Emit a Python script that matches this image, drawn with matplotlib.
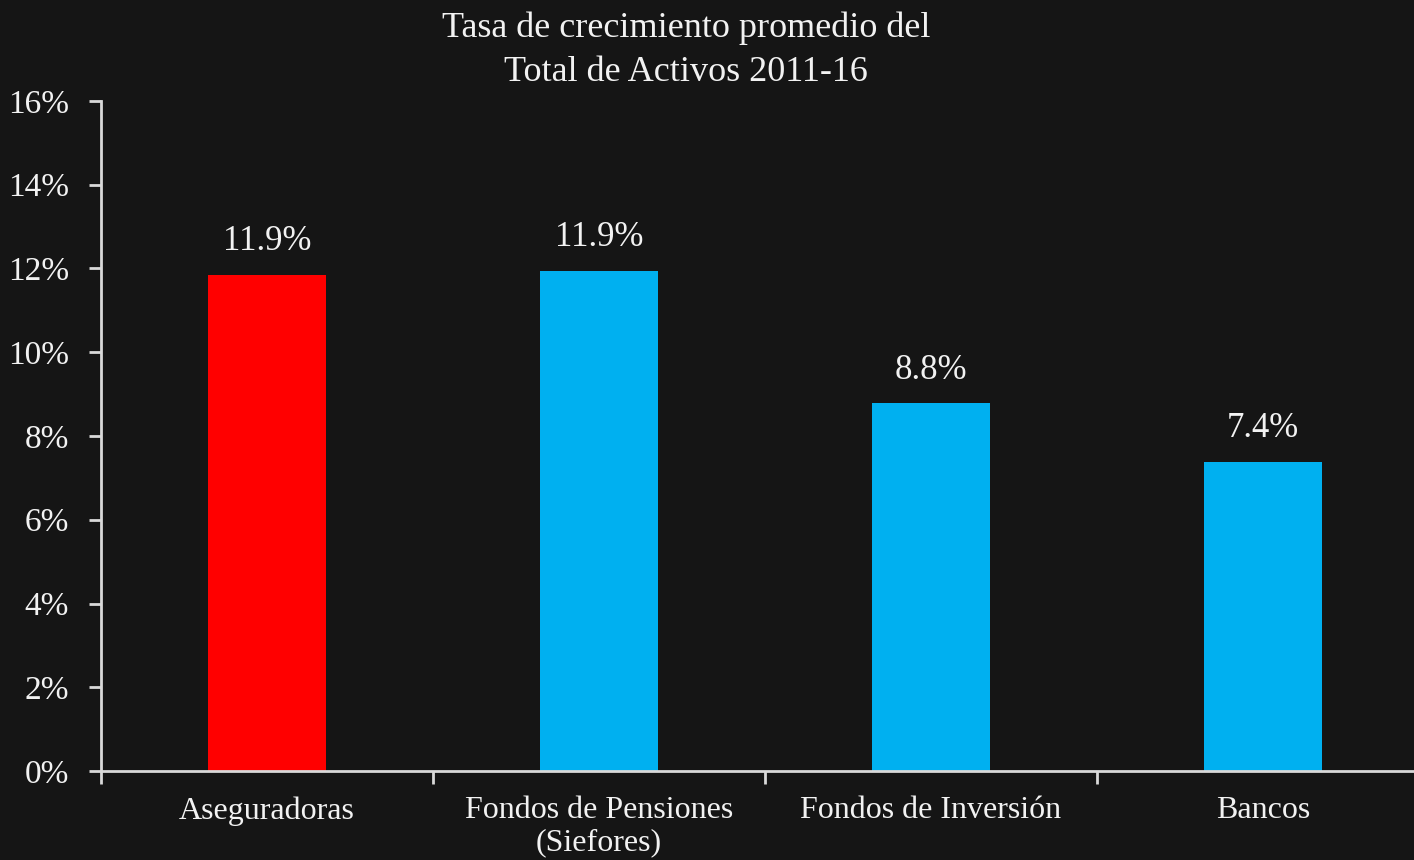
import matplotlib.pyplot as plt
import numpy as np

categorias = ["Aseguradoras", "Fondos de Pensiones\n(Siefores)", "Fondos de Inversión", "Bancos"]
valores = [11.85, 11.95, 8.78, 7.38]
etiquetas = ["11.9%", "11.9%", "8.8%", "7.4%"]
colores = ["#FF0000", "#00B0F0", "#00B0F0", "#00B0F0"]

fondo = "#151515"
texto = "#F2F2F2"
eje = "#D9D9D9"

plt.rcParams["font.family"] = ["Liberation Serif", "DejaVu Serif"]

fig = plt.figure(figsize=(14.14, 8.6), dpi=100, facecolor=fondo)
ax = fig.add_axes([101 / 1414, 1 - 771 / 860, 1328 / 1414, 670 / 860])
ax.set_facecolor(fondo)

x = np.arange(len(categorias))
ax.bar(x, valores, width=0.355, color=colores, zorder=2)

for xi, v, t in zip(x, valores, etiquetas):
    ax.text(xi, v + 0.4, t, ha="center", va="bottom", color=texto, fontsize=25)

ax.set_xlim(-0.5, 3.5)
ax.set_ylim(0, 16)
ax.set_yticks(range(0, 17, 2))
ax.set_yticklabels([f"{v}%" for v in range(0, 17, 2)])

ax.set_xticks(x)
ax.set_xticklabels(categorias, linespacing=1.15)
ax.set_xticks(np.arange(-0.5, 4, 1), minor=True)
ax.tick_params(axis="x", which="major", length=0, pad=18, labelsize=23, labelcolor=texto)
ax.tick_params(axis="x", which="minor", length=9, width=2, color=eje, direction="out")
ax.tick_params(axis="y", length=9, width=2, color=eje, pad=14, labelsize=24, labelcolor=texto)

for s in ["top", "right"]:
    ax.spines[s].set_visible(False)
for s in ["left", "bottom"]:
    ax.spines[s].set_color(eje)
    ax.spines[s].set_linewidth(2)

fig.text(686 / 1414, 1 - 50 / 860, "Tasa de crecimiento promedio del\nTotal de Activos 2011-16",
         ha="center", va="center", color=texto, fontsize=26, linespacing=1.45)

fig.savefig("out.png", dpi=100, facecolor=fondo)
